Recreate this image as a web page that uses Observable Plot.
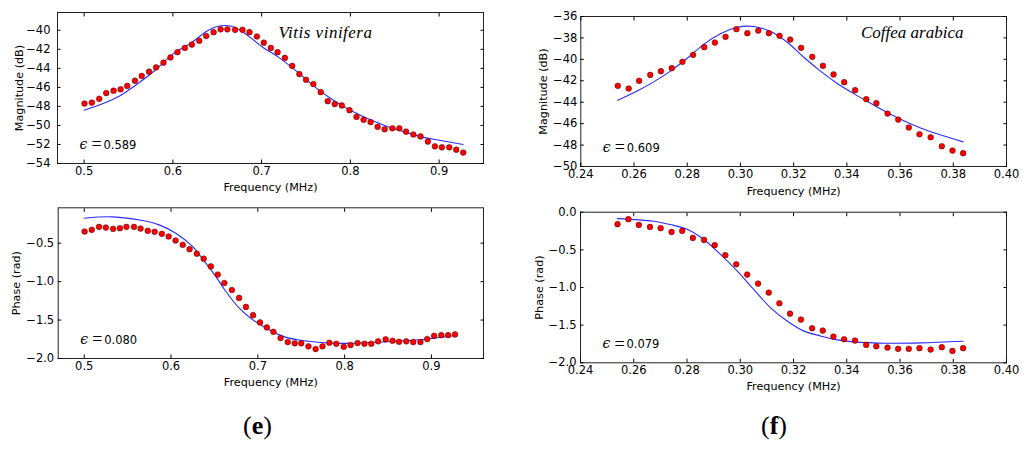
<!DOCTYPE html>
<html><head><meta charset="utf-8">
<script src="https://cdn.jsdelivr.net/npm/d3@7"></script>
<script src="https://cdn.jsdelivr.net/npm/@observablehq/plot@0.6"></script>
<style>
html,body{margin:0;padding:0;background:#fff;}
#root{position:relative;width:1024px;height:449px;overflow:hidden;background:#fff;}
.panel{position:absolute;}
.cap{position:absolute;font-family:"Liberation Serif",serif;font-size:26px;color:#000;line-height:1;}
</style></head><body><div id="root"></div>
<script>
// ---------- (e) Vitis vinifera ----------
const freqE = [0.5004,0.5087,0.5170,0.5249,0.5332,0.5411,0.5486,0.5573,0.5649,0.5732,0.5811,0.5894,0.5973,0.6052,0.6135,0.6214,0.6297,0.6376,0.6459,0.6538,0.6614,0.6701,0.6784,0.6863,0.6946,0.7025,0.7104,0.7180,0.7262,0.7345,0.7425,0.7500,0.7583,0.7666,0.7745,0.7824,0.7904,0.7990,0.8069,0.8149,0.8228,0.8307,0.8386,0.8473,0.8552,0.8627,0.8710,0.8790,0.8873,0.8952,0.9031,0.9114,0.9193,0.9272];
const magE = [-47.7,-47.6,-47.2,-46.6,-46.35,-46.2,-45.85,-45.3,-44.8,-44.35,-43.9,-43.4,-42.85,-42.3,-41.85,-41.5,-41.1,-40.6,-40.2,-39.9,-39.9,-39.95,-39.95,-40.2,-40.65,-41.3,-41.85,-42.3,-42.9,-43.75,-44.6,-45.2,-45.65,-46.5,-47.45,-47.75,-47.9,-48.4,-49.1,-49.4,-49.65,-50.15,-50.4,-50.3,-50.3,-50.65,-50.95,-51.15,-51.7,-52.2,-52.3,-52.3,-52.55,-52.85];
const phaseE = [-0.348,-0.326,-0.288,-0.297,-0.314,-0.306,-0.288,-0.288,-0.310,-0.339,-0.352,-0.378,-0.413,-0.465,-0.521,-0.578,-0.637,-0.702,-0.802,-0.909,-1.018,-1.109,-1.212,-1.329,-1.437,-1.531,-1.596,-1.653,-1.734,-1.786,-1.803,-1.803,-1.842,-1.877,-1.842,-1.795,-1.808,-1.847,-1.825,-1.799,-1.808,-1.808,-1.777,-1.751,-1.769,-1.782,-1.777,-1.786,-1.786,-1.747,-1.705,-1.696,-1.696,-1.687];
const fitFreqEMag = [0.50,0.52,0.54,0.56,0.58,0.60,0.62,0.64,0.65,0.66,0.67,0.68,0.69,0.70,0.72,0.74,0.76,0.78,0.80,0.82,0.84,0.86,0.88,0.90,0.927];
const fitMagE = [-48.4,-47.75,-46.9,-45.65,-44.2,-42.5,-41.35,-40.0,-39.6,-39.5,-39.7,-40.25,-40.95,-41.7,-42.9,-44.35,-45.95,-47.3,-48.4,-49.3,-50.05,-50.65,-51.2,-51.55,-52.0];
const fitFreqEPh = [0.5,0.5326,0.5671,0.5863,0.6055,0.6247,0.64,0.6515,0.663,0.6783,0.6937,0.709,0.7282,0.7474,0.7666,0.7857,0.805,0.8433,0.8817,0.9285];
const fitPhE = [-0.176,-0.158,-0.206,-0.262,-0.371,-0.543,-0.759,-0.931,-1.126,-1.342,-1.492,-1.601,-1.709,-1.760,-1.786,-1.80,-1.803,-1.786,-1.760,-1.70];

// ---------- (f) Coffea arabica ----------
const freqF = [0.2539,0.2580,0.2619,0.2661,0.2701,0.2742,0.2782,0.2822,0.2864,0.2904,0.2944,0.2985,0.3026,0.3067,0.3107,0.3147,0.3187,0.3228,0.3270,0.3310,0.3350,0.3390,0.3431,0.3473,0.3511,0.3553,0.3593,0.3633,0.3673,0.3715,0.3757,0.3797,0.3837];
const magF = [-42.47,-42.72,-42.0,-41.45,-41.1,-40.82,-40.23,-39.58,-38.86,-38.43,-37.9,-37.18,-37.56,-37.31,-37.56,-37.8,-38.15,-38.92,-39.76,-40.6,-41.41,-42.13,-42.88,-43.72,-44.09,-45.06,-45.62,-46.36,-46.99,-47.27,-48.11,-48.51,-48.76];
const phaseF = [-0.159,-0.093,-0.169,-0.195,-0.212,-0.262,-0.248,-0.341,-0.368,-0.438,-0.571,-0.691,-0.829,-0.948,-1.068,-1.209,-1.347,-1.426,-1.541,-1.572,-1.652,-1.687,-1.705,-1.762,-1.780,-1.798,-1.815,-1.815,-1.806,-1.824,-1.793,-1.842,-1.806];
const fitFreqFMag = [0.2539,0.2612,0.2674,0.2737,0.2800,0.2862,0.2925,0.2988,0.3050,0.3113,0.3176,0.3238,0.3301,0.3364,0.3426,0.3489,0.3551,0.3614,0.3677,0.3739,0.3837];
const fitMagF = [-43.81,-42.95,-42.1,-41.1,-39.9,-38.6,-37.62,-37.0,-36.93,-37.4,-38.4,-39.8,-41.1,-42.25,-43.2,-44.1,-44.95,-45.72,-46.4,-46.95,-47.7];
const fitFreqFPh = [0.2539,0.2674,0.2737,0.2800,0.2862,0.2925,0.2988,0.3050,0.3113,0.3176,0.3238,0.3301,0.3364,0.3426,0.3551,0.3677,0.3837];
const fitPhF = [-0.085,-0.12,-0.164,-0.226,-0.359,-0.558,-0.780,-1.023,-1.266,-1.444,-1.576,-1.643,-1.696,-1.722,-1.740,-1.736,-1.714];

// ---------- ticks / labels ----------
const xTicksE = [0.5,0.6,0.7,0.8,0.9];
const xTicksF = [0.24,0.26,0.28,0.30,0.32,0.34,0.36,0.38,0.40];
const yTicksMagE = [-54,-52,-50,-48,-46,-44,-42,-40];
const yTicksMagF = [-50,-48,-46,-44,-42,-40,-38,-36];
const yTicksPh = [-2.0,-1.5,-1.0,-0.5];
const yTicksPhF = [-2.0,-1.5,-1.0,-0.5,0.0];
const xLabel = "Frequency (MHz)";
const magLabel = "Magnitude (dB)";
const phLabel = "Phase (rad)";
const epsValues = {eMag:"0.589", ePh:"0.080", fMag:"0.609", fPh:"0.079"};
const species = {e:"Vitis vinifera", f:"Coffea arabica"};
const captions = {e:"e", f:"f"};

const rows = (xs, ys) => xs.map((f, i) => ({f, v: ys[i]}));

function panel(o) {
  const marks = [
    Plot.line(o.fit, {x:"f", y:"v", stroke:"#2a2aff", strokeWidth:1.1, curve:"catmull-rom"}),
    Plot.dot(o.dots, {x:"f", y:"v", r:2.85, fill:"#ff0000", stroke:"#400", strokeWidth:0.5}),
    Plot.frame({stroke:"#222", strokeWidth:1}),
    Plot.axisX({ticks:o.xTicks, anchor:"bottom", tickSize:-3.5, tickPadding:7, tickFormat:d3.format(o.xFmt), label:null, fontSize:11.5}),
    Plot.axisX({ticks:o.xTicks, anchor:"top", tickSize:-3.5, tickFormat:() => "", label:null}),
    Plot.axisY({ticks:o.yTicks, anchor:"left", tickSize:-3.5, tickPadding:o.yPad, tickFormat:d3.format(o.yFmt), label:null, fontSize:11.5}),
    Plot.axisY({ticks:o.yTicks, anchor:"right", tickSize:-3.5, tickFormat:() => "", label:null}),
    Plot.text([xLabel], {frameAnchor:"bottom", dy:o.xLabDy, text:d => d, fontSize:11.2, textAnchor:"middle", lineAnchor:"middle"}),
    Plot.text([o.yLabel], {frameAnchor:"left", dx:o.yLabDx, rotate:-90, text:d => d, fontSize:11.2, textAnchor:"middle", lineAnchor:"middle"}),
    Plot.text(["ϵ"], {frameAnchor:"bottom-left", dx:22, dy:-19, text:d => d, textAnchor:"start", lineAnchor:"middle", fontFamily:"DejaVu Serif", fontStyle:"italic", fontSize:14}),
    Plot.text(["="], {frameAnchor:"bottom-left", dx:34, dy:-19, text:d => d, textAnchor:"start", lineAnchor:"middle", fontFamily:"Liberation Serif", fontSize:18}),
    Plot.text([o.eps], {frameAnchor:"bottom-left", dx:46, dy:-18.5, text:d => d, textAnchor:"start", lineAnchor:"middle", fontSize:11.5})
  ];
  if (o.species) marks.push(Plot.text([o.species], {frameAnchor:"top-right", dx:o.spDx, dy:o.spDy, text:d => d, textAnchor:"end", lineAnchor:"middle", fontFamily:"Liberation Serif", fontStyle:"italic", fontSize:17}));
  const svg = Plot.plot({
    width:512, height:200,
    marginLeft:o.mL, marginRight:o.mR, marginTop:o.mT, marginBottom:o.mB,
    x:{domain:o.xDomain}, y:{domain:o.yDomain},
    style:{fontFamily:"DejaVu Sans", fontSize:"11px", color:"#000", background:"transparent", overflow:"visible"},
    marks
  });
  svg.classList.add("panel");
  svg.style.left = o.left + "px";
  svg.style.top = o.top + "px";
  d3.select(svg).selectAll("text").filter(function(){ return this.textContent === species.e; }).style("letter-spacing","0.5px");
  return svg;
}

const root = document.getElementById("root");
root.appendChild(panel({left:0, top:0, mL:57, mR:29, mT:12, mB:37,
  xDomain:[0.47,0.95], yDomain:[-54,-38.13], xTicks:xTicksE, yTicks:yTicksMagE, xFmt:".1f", yFmt:"d", yPad:10.5,
  dots:rows(freqE, magE), fit:rows(fitFreqEMag, fitMagE), yLabel:magLabel, yLabDx:-38, xLabDy:24,
  eps:epsValues.eMag, species:species.e, spDx:-111, spDy:20}));
root.appendChild(panel({left:0, top:195, mL:57.7, mR:29, mT:12.3, mB:37,
  xDomain:[0.47,0.96], yDomain:[-2,-0.04], xTicks:xTicksE, yTicks:yTicksPh, xFmt:".1f", yFmt:".1f", yPad:7.5,
  dots:rows(freqE, phaseE), fit:rows(fitFreqEPh, fitPhE), yLabel:phLabel, yLabDx:-41.7, xLabDy:24,
  eps:epsValues.ePh}));
root.appendChild(panel({left:512, top:0, mL:68.3, mR:18, mT:16, mB:34,
  xDomain:[0.24,0.40], yDomain:[-50,-36], xTicks:xTicksF, yTicks:yTicksMagF, xFmt:".2f", yFmt:"d", yPad:7,
  dots:rows(freqF, magF), fit:rows(fitFreqFMag, fitMagF), yLabel:magLabel, yLabDx:-37.6, xLabDy:24.7,
  eps:epsValues.fMag, species:species.f, spDx:-43, spDy:16.5}));
root.appendChild(panel({left:512, top:195, mL:68, mR:18, mT:16.7, mB:32.7,
  xDomain:[0.24,0.40], yDomain:[-2,0], xTicks:xTicksF, yTicks:yTicksPhF, xFmt:".2f", yFmt:".1f", yPad:7.5,
  dots:rows(freqF, phaseF), fit:rows(fitFreqFPh, fitPhF), yLabel:phLabel, yLabDx:-40.7, xLabDy:23.5,
  eps:epsValues.fPh}));

function caption(letter, left) {
  const d = document.createElement("div");
  d.className = "cap";
  d.style.left = left + "px";
  d.style.top = "413px";
  d.append("(");
  const b = document.createElement("b");
  b.textContent = letter;
  d.append(b);
  d.append(")");
  root.appendChild(d);
}
caption(captions.e, 243);
caption(captions.f, 761);
</script>
</body></html>
